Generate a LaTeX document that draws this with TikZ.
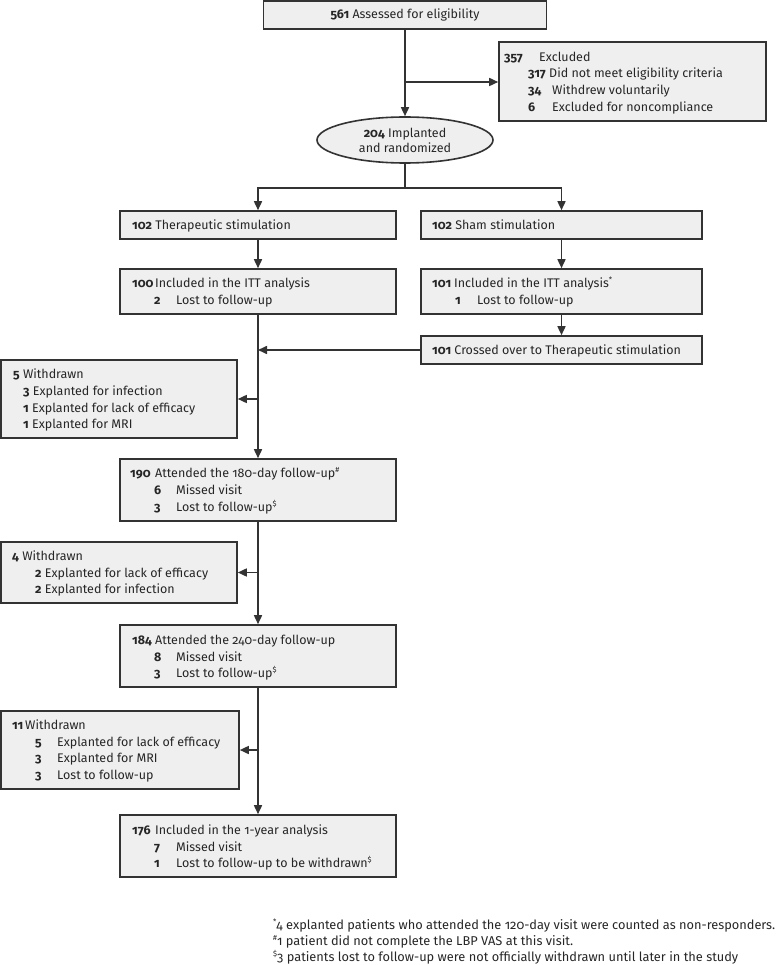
\documentclass[tikz,border=0pt]{standalone}
\usepackage{fontspec}
\setmainfont{Fira Sans}[Numbers=OldStyle]
\usetikzlibrary{arrows.meta,shapes.geometric}
\definecolor{boxfill}{HTML}{EFEFEF}
\definecolor{boxline}{HTML}{333333}
\newcommand{\mysup}[1]{\raisebox{0.75ex}{\fontsize{7.5}{7.5}\selectfont #1}}
\begin{document}
\begin{tikzpicture}[x=1pt,y=-1pt,
  box/.style={draw=boxline, fill=boxfill, line width=1.6pt, inner sep=0pt},
  stxt/.style={font=\fontsize{12.5}{15}\selectfont, text=black!85},
  txt/.style={anchor=base west, inner sep=0pt, yshift=-4.3pt, font=\fontsize{12.5}{15}\selectfont, text=black!85},
  ftxt/.style={anchor=base west, inner sep=0pt, yshift=-4.3pt, font=\fontsize{12.8}{15}\selectfont, text=black!85},
  arr/.style={draw=boxline, line width=1.6pt, -{Triangle[length=9pt,width=8pt]}},
  ln/.style={draw=boxline, line width=1.6pt}]
\useasboundingbox (0,0) rectangle (780,965);

% boxes
\node[box, stxt, minimum width=283pt, minimum height=28pt] (top) at (405,15) {\textbf{561} Assessed for eligibility};
\node[box, minimum width=267pt, minimum height=79pt] (excl) at (632.5,81.5) {};
\node[box, stxt, ellipse, minimum width=176pt, minimum height=46pt, align=center] (ell) at (405,140) {\textbf{204} Implanted\\and randomized};
\node[box, minimum width=276pt, minimum height=28pt] (ther) at (258,225) {};
\node[box, minimum width=281pt, minimum height=28pt] (sham) at (561.5,225) {};
\node[box, minimum width=276pt, minimum height=45pt] (itt1) at (258,291.5) {};
\node[box, minimum width=281pt, minimum height=45pt] (itt2) at (561.5,291.5) {};
\node[box, minimum width=281pt, minimum height=28pt] (cross) at (561.5,350) {};
\node[box, minimum width=236pt, minimum height=78pt] (w5) at (119,399) {};
\node[box, minimum width=276pt, minimum height=62pt] (a190) at (258,490) {};
\node[box, minimum width=236pt, minimum height=61pt] (w4) at (119,572.5) {};
\node[box, minimum width=276pt, minimum height=62pt] (a184) at (258,656) {};
\node[box, minimum width=238pt, minimum height=78pt] (w11) at (120,750) {};
\node[box, minimum width=276pt, minimum height=62pt] (a176) at (258,846) {};

% texts
\node[txt] (e1n) at (504,57) {\textbf{357}};
\node[txt] (e1t) at (539,57) {Excluded};
\node[txt] (e2n) at (528,73) {\textbf{317}};
\node[txt] (e2t) at (549,73) {Did not meet eligibility criteria};
\node[txt] (e3n) at (528,90) {\textbf{34}};
\node[txt] (e3t) at (552,90) {Withdrew voluntarily};
\node[txt] (e4n) at (528,107) {\textbf{6}};
\node[txt] (e4t) at (552,107) {Excluded for noncompliance};

\node[txt] (tht) at (132,225) {\textbf{102} Therapeutic stimulation};
\node[txt] (sht) at (432,225) {\textbf{102} Sham stimulation};

\node[txt] (i1n) at (132,283) {\textbf{100}};
\node[txt] (i1t) at (155,283) {Included in the ITT analysis};
\node[txt] (i1bn) at (154,300) {\textbf{2}};
\node[txt] (i1bt) at (176,300) {Lost to follow-up};

\node[txt] (i2n) at (432,283) {\textbf{101}};
\node[txt] (i2t) at (454,283) {Included in the ITT analysis\mysup{*}};
\node[txt] (i2bn) at (455,300) {\textbf{1}};
\node[txt] (i2bt) at (477,300) {Lost to follow-up};

\node[txt] (crt) at (432,350) {\textbf{101} Crossed over to Therapeutic stimulation};

\node[txt] (w5a) at (13,374) {\textbf{5} Withdrawn};
\node[txt] (w5b) at (23,391) {\textbf{3} Explanted for infection};
\node[txt] (w5c) at (23,408) {\textbf{1} Explanted for lack of efficacy};
\node[txt] (w5d) at (23,424) {\textbf{1} Explanted for MRI};

\node[txt] (a1n) at (130,473) {\textbf{190}};
\node[txt] (a1t) at (155,473) {Attended the 180-day follow-up\mysup{\#}};
\node[txt] (a1bn) at (154,490) {\textbf{6}};
\node[txt] (a1bt) at (176,490) {Missed visit};
\node[txt] (a1cn) at (154,507) {\textbf{3}};
\node[txt] (a1ct) at (176,507) {Lost to follow-up\mysup{\$}};

\node[txt] (w4a) at (12,556) {\textbf{4} Withdrawn};
\node[txt] (w4b) at (35,573) {\textbf{2} Explanted for lack of efficacy};
\node[txt] (w4c) at (35,589) {\textbf{2} Explanted for infection};

\node[txt] (a2n) at (132,640) {\textbf{184}};
\node[txt] (a2t) at (155,640) {Attended the 240-day follow-up};
\node[txt] (a2bn) at (154,657) {\textbf{8}};
\node[txt] (a2bt) at (176,657) {Missed visit};
\node[txt] (a2cn) at (154,673) {\textbf{3}};
\node[txt] (a2ct) at (176,673) {Lost to follow-up\mysup{\$}};

\node[txt] (w11an) at (12,725) {\textbf{11}};
\node[txt] (w11at) at (25,725) {Withdrawn};
\node[txt] (w11bn) at (35,742) {\textbf{5}};
\node[txt] (w11bt) at (57,742) {Explanted for lack of efficacy};
\node[txt] (w11cn) at (35,758) {\textbf{3}};
\node[txt] (w11ct) at (57,758) {Explanted for MRI};
\node[txt] (w11dn) at (35,775) {\textbf{3}};
\node[txt] (w11dt) at (57,775) {Lost to follow-up};

\node[txt] (a3n) at (132,830) {\textbf{176}};
\node[txt] (a3t) at (155,830) {Included in the 1-year analysis};
\node[txt] (a3bn) at (154,847) {\textbf{7}};
\node[txt] (a3bt) at (176,847) {Missed visit};
\node[txt] (a3cn) at (154,863) {\textbf{1}};
\node[txt] (a3ct) at (176,863) {Lost to follow-up to be withdrawn\mysup{\$}};

\node[ftxt] (f1) at (273,925) {\mysup{*}4 explanted patients who attended the 120-day visit were counted as non-responders.};
\node[ftxt] (f2) at (273,941) {\mysup{\#}1 patient did not complete the LBP VAS at this visit.};
\node[ftxt] (f3) at (273,957) {\mysup{\$}3 patients lost to follow-up were not officially withdrawn until later in the study};

% connectors
\coordinate (b1) at (405,82);
\coordinate (s1) at (405,188);
\coordinate (m1) at (258,350);
\coordinate (m2) at (258,399);
\coordinate (m3) at (258,572.5);
\coordinate (m4) at (258,750);
\draw[arr] (top) -- (ell);
\draw[arr] (b1) -- (b1 -| excl.west);
\draw[ln] (ell) -- (s1);
\draw[arr] (s1) -| (ther);
\draw[arr] (s1) -| (sham);
\draw[arr] (ther) -- (itt1);
\draw[arr] (sham) -- (itt2);
\draw[arr] (itt2) -- (cross);
\draw[arr] (itt1) -- (a190);
\draw[arr] (cross) -- (m1);
\draw[arr] (m2) -- (w5);
\draw[arr] (a190) -- (a184);
\draw[arr] (m3) -- (w4);
\draw[arr] (a184) -- (a176);
\draw[arr] (m4) -- (w11);
\end{tikzpicture}
\end{document}
